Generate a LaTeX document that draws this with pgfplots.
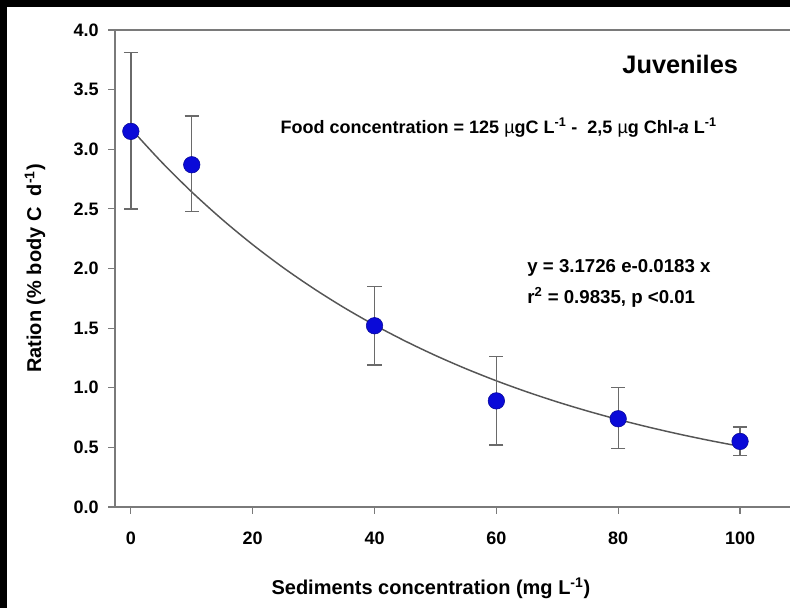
\documentclass[border=0pt]{standalone}
\usepackage{pgfplots}
\pgfplotsset{compat=1.18}
\usepackage{fontspec}
\setmainfont{Liberation Sans}
\definecolor{axgray}{HTML}{7A7A7A}
\definecolor{ebgray}{HTML}{6A6A6A}
\definecolor{fitgray}{HTML}{555555}
\definecolor{dotblue}{HTML}{0A0AD8}
\begin{document}
\begin{tikzpicture}
% page: 790 x 608 px, 1px = 0.75pt
\useasboundingbox (0pt,0pt) rectangle (592.5pt,456pt);
\fill[black] (0pt,0pt) rectangle (592.5pt,456pt);
\fill[white] (5.25pt,0pt) rectangle (592.5pt,450.75pt);
\begin{axis}[
  at={(86.25pt,75.75pt)}, anchor=south west,
  scale only axis, width=506.25pt, height=357.75pt,
  xmin=-2.6, xmax=108.2, ymin=0, ymax=4,
  axis x line=box, axis y line=left,
  axis line style={axgray, line width=1.1pt, -},
  x axis line style={-}, y axis line style={-},
  xtick={0,20,40,60,80,100},
  ytick={0,0.5,...,4.0},
  xtick pos=bottom, ytick pos=left,
  tick align=outside,
  major tick length=5pt,
  tick style={axgray, line width=0.9pt},
  /pgf/number format/assume math mode=true,
  ticklabel style={font=\bfseries\fontsize{13.5}{15}\selectfont},
  xticklabel style={yshift=-10pt},
  yticklabel style={xshift=-3.75pt, /pgf/number format/fixed, /pgf/number format/fixed zerofill, /pgf/number format/precision=1},
  xlabel={Sediments concentration (mg L\textsuperscript{-1})},
  ylabel={Ration (\% body C\ \ d\textsuperscript{-1})},
  label style={font=\bfseries\fontsize{15}{17}\selectfont},
  xlabel style={at={(axis description cs:0.468,-0.170)}, anchor=center},
  ylabel style={at={(axis description cs:-0.1185,0.5)}, anchor=center},
  clip=false,
]
\addplot[fitgray, line width=1.1pt, smooth, no marks] coordinates {
 (0,3.1726) (5,2.8952) (10,2.6420) (15,2.4112) (20,2.2003) (25,2.0077)
 (30,1.8323) (35,1.6720) (40,1.5259) (45,1.3925) (50,1.2707) (55,1.1596)
 (60,1.0582) (65,0.9657) (70,0.8812) (75,0.8042) (80,0.7339) (85,0.6697)
 (90,0.6111) (95,0.5577) (100,0.5089)
};
\addplot[only marks, mark=*, mark size=6.2pt,
  mark options={fill=dotblue, draw=dotblue!70!black, line width=0.4pt},
  error bars/.cd, y dir=both, y explicit,
  error bar style={ebgray, line width=1pt},
  error mark options={rotate=90, mark size=5.3pt, ebgray, line width=1pt}]
coordinates {
 (0,3.15) += (0,0.66) -= (0,0.65)
 (10,2.87) += (0,0.41) -= (0,0.39)
 (40,1.52) += (0,0.33) -= (0,0.33)
 (60,0.89) += (0,0.37) -= (0,0.37)
 (80,0.74) += (0,0.26) -= (0,0.25)
 (100,0.55) += (0,0.12) -= (0,0.12)
};
\end{axis}
% annotations (positions in px converted to pt; y measured from bottom)
\node[anchor=east, font=\bfseries\fontsize{19}{22}\selectfont] at (557pt,408pt) {Juveniles};
\node[anchor=west, font=\bfseries\fontsize{13.5}{15}\selectfont] at (207pt,360pt) {Food concentration = 125 {\mdseries µ}gC L\textsuperscript{-1} -\ \ 2,5 {\mdseries µ}g Chl-\textit{a} L\textsuperscript{-1}};
\node[anchor=west, font=\bfseries\fontsize{14}{16}\selectfont, align=left] at (392pt,255pt) {y = 3.1726 e-0.0183 x};
\node[anchor=west, font=\bfseries\fontsize{14}{16}\selectfont, align=left] at (392pt,233pt) {r\textsuperscript{2} = 0.9835, p <0.01};
\end{tikzpicture}
\end{document}
